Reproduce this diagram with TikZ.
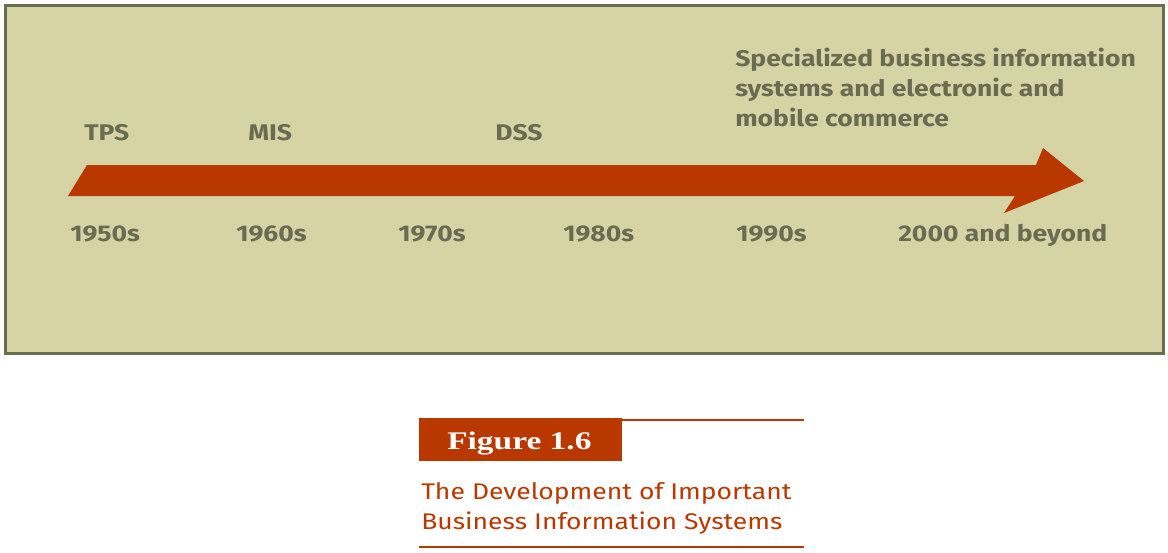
\documentclass[tikz,border=0pt]{standalone}
\usepackage{fontspec}
\setmainfont{Fira Sans}[FakeStretch=1.17]
\newfontfamily\capfont{Liberation Serif}[FakeStretch=1.32]
\definecolor{bgc}{RGB}{214,211,165}
\definecolor{framec}{RGB}{107,107,80}
\definecolor{txtc}{RGB}{107,107,82}
\definecolor{arrc}{RGB}{185,56,0}
\tikzset{
  lbl/.style={anchor=base west, inner sep=0pt, text=txtc, font=\fontsize{17}{22}\selectfont\bfseries},
  yr/.style={lbl},
  captxt/.style={anchor=base west, inner sep=0pt, text=arrc, font=\fontsize{17}{22}\selectfont},
}
\begin{document}
\begin{tikzpicture}[x=0.75pt,y=-0.75pt]
\useasboundingbox (0,0) rectangle (1168,553);
\draw[line width=2.6pt, draw=framec, fill=bgc] (5.5,5.5) rectangle (1163.5,353.5);
% arrow
\fill[arrc] (68,196) -- (87,165) -- (1036,165) -- (1043,148) -- (1084,181) -- (1004,213) -- (1015,196) -- cycle;
\node[lbl] (tps) at (84,140) {TPS};
\node[lbl] (mis) at (248,140) {MIS};
\node[lbl] (dss) at (495,140) {DSS};
\node[lbl] (spec1) at (735,66) {Specialized business information};
\node[lbl] (spec2) at (735,96) {systems and electronic and};
\node[lbl] (spec3) at (735,126) {mobile commerce};
\node[yr] (y50) at (70,241) {1950s};
\node[yr] (y60) at (236,241) {1960s};
\node[yr] (y70) at (398,241) {1970s};
\node[yr] (y80) at (563,241) {1980s};
\node[yr] (y90) at (736,241) {1990s};
\node[yr] (y00) at (898,241) {2000 and beyond};
% figure caption
\fill[arrc] (419,418) rectangle (622,461);
\draw[arrc, line width=1.5pt] (622,420) -- (804,420);
\draw[arrc, line width=1.8pt] (419,547) -- (804,547);
\node[anchor=base west, inner sep=0pt, text=white, font=\capfont\fontsize{19}{22}\selectfont\bfseries] (fig) at (447,449) {Figure 1.6};
\node[captxt] (c1) at (421,499) {The Development of Important};
\node[captxt] (c2) at (421,529) {Business Information Systems};
\end{tikzpicture}
\end{document}
